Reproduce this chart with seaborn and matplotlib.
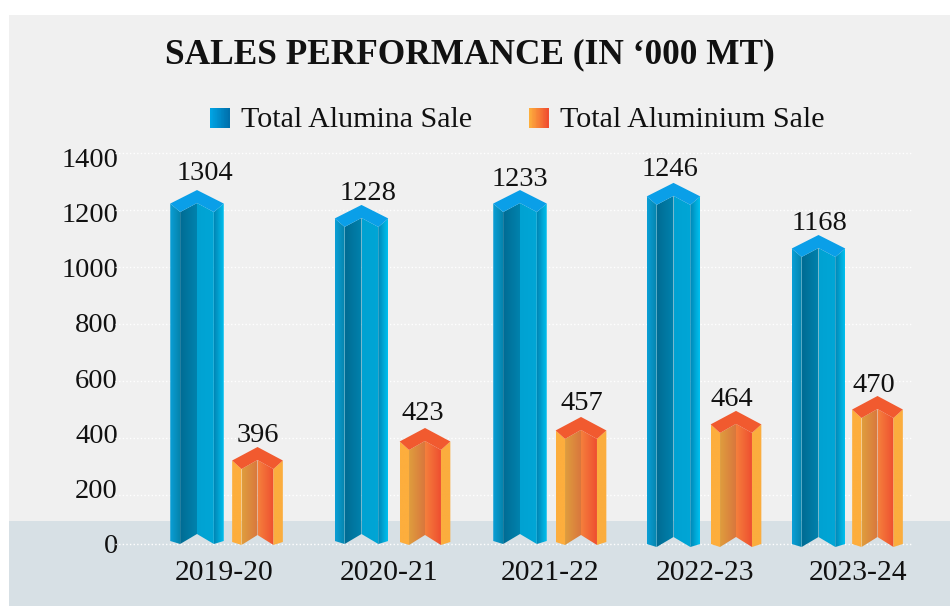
import numpy as np
import pandas as pd
import matplotlib
matplotlib.use("Agg")
import matplotlib.pyplot as plt
from matplotlib.colors import to_rgb
from matplotlib.legend_handler import HandlerBase
from matplotlib.patches import Polygon, Rectangle
import seaborn as sns

# ---- data ----
years = ["2019-20", "2020-21", "2021-22", "2022-23", "2023-24"]
alumina_labels = [1304, 1228, 1233, 1246, 1168]
aluminium_labels = [396, 423, 457, 464, 470]
# heights as they are drawn in the picture (read at the peak of each bar's cap)
alumina_drawn = [1282, 1228, 1282, 1308, 1119]
aluminium_drawn = [350, 419, 459, 481, 535]
y_ticks = [0, 200, 400, 600, 800, 1000, 1200, 1400]

# ---- layout (pixels of the 950x606 picture) ----
W, H = 950, 606
AX_L, AX_T, AX_B = 118, 153, 544
Y0_PX, PX_PER_UNIT = 543.5, 0.2757
blue_x = [197, 361.5, 520, 673.5, 818.5]
orange_x = [257.5, 425, 581, 736, 877.5]
blue_w, orange_w = 53.5, 50.5
year_x = [224, 389, 550, 705, 858]
grid_px = [544, 495, 438, 381, 324, 267, 210, 153]
blue_lab_xy = [(205, 174), (368, 194), (520, 179), (670, 170), (819, 224)]
orange_lab_xy = [(258, 435), (423, 414), (582, 404), (732, 399), (874, 385)]
bottoms_blue = [544, 544, 544, 547, 547]
bottoms_orange = [545, 545, 545, 547, 547]

def v(py):
    return (Y0_PX - py) / PX_PER_UNIT

BLUE = dict(outer_l=("#0a9fd6", "#0584ad"), inner_l=("#006c94", "#0082ad"),
            inner_r=("#00a2d2", "#00a6d6"), outer_r=("#0086b5", "#00c0ef"), cap="#0a9fe8")
ORANGE = dict(outer_l=("#fdae3d", "#fdae3d"), inner_l=("#df9d3e", "#d9773d"),
              inner_r=("#f57f3c", "#ee4f30"), outer_r=("#fbad3e", "#fbad3e"), cap="#f15a2f")

sns.set_style("white")
plt.rcParams["font.family"] = "Liberation Serif"

fig = plt.figure(figsize=(W / 100, H / 100), dpi=100, facecolor="white")
fig.patches.append(Rectangle((9 / W, 0), 1, 1 - 15 / H, transform=fig.transFigure, fc="#f0f0f0", ec="none", zorder=-5))
fig.patches.append(Rectangle((9 / W, 0), 1, 85 / H, transform=fig.transFigure, fc="#d7e0e5", ec="none", zorder=-4))

ax = fig.add_axes([AX_L / W, 1 - AX_B / H, 1 - AX_L / W, (AX_B - AX_T) / H])
ax.patch.set_visible(False)

def gradient_face(pts, cols):
    poly = Polygon(pts, closed=True, transform=ax.transData, fc="none", ec="none")
    xs = [p[0] for p in pts]
    ys = [p[1] for p in pts]
    c = np.linspace(to_rgb(cols[0]), to_rgb(cols[1]), 32)[None, :, :]
    im = ax.imshow(c, extent=[min(xs), max(xs), min(ys), max(ys)], aspect="auto",
                   interpolation="bilinear", zorder=3)
    ax.add_patch(poly)
    im.set_clip_path(poly)
    im.set_clip_box(fig.bbox)

def draw_column(patch, style, base_py):
    x0, w = patch.get_x(), patch.get_width()
    peak = patch.get_height()
    peak_py = Y0_PX - peak * PX_PER_UNIT
    o = w * 0.185
    xa, xb, xc, xd, xe = x0, x0 + o, x0 + w / 2, x0 + w - o, x0 + w
    corner, notch, mid = v(peak_py + 13.5), v(peak_py + 22), v(peak_py + 13)
    b_out, b_in, b_mid = v(base_py - 3), v(base_py), v(base_py - 10)
    gradient_face([(xa, corner), (xb, notch), (xb, b_in), (xa, b_out)], style["outer_l"])
    gradient_face([(xb, notch), (xc, mid), (xc, b_mid), (xb, b_in)], style["inner_l"])
    gradient_face([(xc, mid), (xd, notch), (xd, b_in), (xc, b_mid)], style["inner_r"])
    gradient_face([(xd, notch), (xe, corner), (xe, b_out), (xd, b_in)], style["outer_r"])
    ax.add_patch(Polygon([(xa, corner), (xc, peak), (xe, corner), (xd, notch), (xc, mid), (xb, notch)],
                         closed=True, fc=style["cap"], ec="none", zorder=4, clip_on=False))
    patch.set_visible(False)

# bars through seaborn; their geometry drives the 3-D faces
df_blue = pd.DataFrame({"x": blue_x, "h": alumina_drawn})
df_orange = pd.DataFrame({"x": orange_x, "h": aluminium_drawn})
sns.barplot(data=df_blue, x="x", y="h", native_scale=True, width=blue_w / 145, ax=ax, color="#00a2d2", errorbar=None)
n_blue = len(ax.patches)
sns.barplot(data=df_orange, x="x", y="h", native_scale=True, width=orange_w / 141, ax=ax, color="#f57f3c", errorbar=None)
bars = list(ax.patches)
for i, p in enumerate(bars[:n_blue]):
    draw_column(p, BLUE, bottoms_blue[i])
for i, p in enumerate(bars[n_blue:]):
    draw_column(p, ORANGE, bottoms_orange[i])

# value labels
for lab, (x, y) in zip(alumina_labels + aluminium_labels, blue_lab_xy + orange_lab_xy):
    ax.text(x, v(y), str(lab), ha="center", va="center", fontsize=20.5, color="#111111", zorder=6, clip_on=False)

# dotted white grid lines
for py in grid_px:
    ax.plot([AX_L - 3, 913], [v(py), v(py)], color="white", lw=1.0, ls=(0, (1, 1.6)), zorder=1, clip_on=False)

# axes
ax.set_xlim(AX_L, W)
ax.set_ylim(v(AX_B), v(AX_T))
ax.set_yticks(y_ticks)
ax.set_xticks(year_x)
ax.set_xticklabels(years)
ax.set_xlabel("")
ax.set_ylabel("")
ax.tick_params(axis="both", length=0, labelsize=20.5, labelcolor="#111111")
ax.tick_params(axis="x", pad=11.5, labelsize=21.3)
ax.tick_params(axis="y", pad=0)
sns.despine(ax=ax, left=True, bottom=True)

# legend with gradient squares
class GradientHandler(HandlerBase):
    def __init__(self, cols):
        super().__init__()
        self.cols = cols
    def create_artists(self, legend, orig, xd, yd, width, height, fontsize, trans):
        n = 24
        c = np.linspace(to_rgb(self.cols[0]), to_rgb(self.cols[1]), n)
        return [Rectangle((-xd + width * i / n, -yd - 1), width / n + 0.3, height, fc=c[i], ec="none", transform=trans)
                for i in range(n)]

h1, h2 = Rectangle((0, 0), 1, 1), Rectangle((0, 0), 1, 1)
fig.legend([h1, h2], ["Total Alumina Sale", "Total Aluminium Sale"], ncol=2, frameon=False,
           loc="center", bbox_to_anchor=(517.5 / W, 1 - 120 / H), fontsize=21.6,
           handlelength=0.63, handleheight=0.66, handletextpad=0.4, columnspacing=1.9,
           labelcolor="#111111",
           handler_map={h1: GradientHandler(("#00a4e4", "#0070ac")), h2: GradientHandler(("#fdae3d", "#f04e30"))})

fig.text(470 / W, 1 - 55 / H, "SALES PERFORMANCE (IN \u2018000 MT)", ha="center", va="center",
         fontsize=25.4, fontweight="bold", color="#111111")

fig.savefig("out.png", dpi=100)
